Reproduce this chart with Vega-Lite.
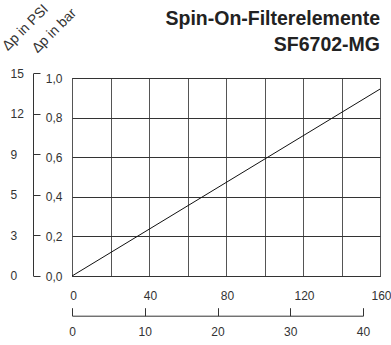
{
  "$schema": "https://vega.github.io/schema/vega-lite/v6.json",
  "width": 308,
  "height": 198,
  "autosize": "none",
  "padding": {"left": 72, "top": 78, "right": 11, "bottom": 69},
  "background": "white",
  "title": {
    "text": ["Spin-On-Filterelemente", "SF6702-MG"],
    "anchor": "end",
    "frame": "group",
    "font": "Liberation Sans",
    "fontSize": 19.5,
    "fontWeight": "bold",
    "color": "#222",
    "lineHeight": 26,
    "offset": 0,
    "dy": 54
  },
  "layer": [
    {
      "data": {"values": [{"flow": 0, "dp": 0}, {"flow": 160, "dp": 0.944}]},
      "mark": {"type": "line", "color": "#111", "strokeWidth": 1},
      "encoding": {
        "x": {
          "field": "flow", "type": "quantitative",
          "scale": {"domain": [0, 160], "nice": false},
          "axis": {
            "values": [0, 20, 40, 60, 80, 100, 120, 140, 160],
            "labelExpr": "datum.value % 40 == 0 ? datum.label : ''",
            "grid": true, "gridColor": "#555", "domain": false, "ticks": false,
            "labelPadding": 14, "labelFlush": false, "labelOffset": 1, "title": null
          }
        },
        "y": {
          "field": "dp", "type": "quantitative",
          "scale": {"domain": [0, 1], "nice": false},
          "axis": {
            "values": [0, 0.2, 0.4, 0.6, 0.8, 1],
            "labelExpr": "replace(format(datum.value, '.1f'), '.', ',')",
            "grid": true, "gridColor": "#333", "domain": false, "ticks": false,
            "labelPadding": 10, "labelFlush": false,
            "title": "Δp in bar", "titleAngle": 315, "titleX": -35, "titleY": -25,
            "titleAlign": "left", "titleBaseline": "alphabetic"
          }
        }
      }
    },
    {
      "data": {"values": [{"gpm": 0, "psi": 0}, {"gpm": 40, "psi": 14.5}]},
      "mark": {"type": "point", "opacity": 0},
      "encoding": {
        "x": {
          "field": "gpm", "type": "quantitative",
          "scale": {"domain": [0, 40], "range": [0, 291], "nice": false},
          "axis": {
            "orient": "top", "offset": -237.7,
            "values": [0, 10, 20, 30, 40],
            "domain": true, "domainColor": "#333", "ticks": true, "tickColor": "#333", "tickSize": 8,
            "labelPadding": -19, "labelBaseline": "top", "labelFlush": false,
            "grid": false, "title": null
          }
        },
        "y": {
          "field": "psi", "type": "quantitative",
          "scale": {"domain": [0, 14.5], "range": [197.7, -4.7], "nice": false},
          "axis": {
            "orient": "right", "offset": -347,
            "values": [0, 2.9, 5.8, 8.7, 11.6, 14.5],
            "labelExpr": "[0, 3, 5, 9, 12, 15][round(datum.value / 2.9)]",
            "domain": true, "domainColor": "#333", "ticks": true, "tickColor": "#333", "tickSize": 7,
            "labelPadding": -30, "labelAlign": "left", "labelFlush": false,
            "grid": false,
            "title": "Δp in PSI", "titleAngle": 315, "titleX": -25.7, "titleY": -27.3,
            "titleAlign": "left", "titleBaseline": "alphabetic"
          }
        }
      }
    }
  ],
  "resolve": {
    "scale": {"x": "independent", "y": "independent"},
    "axis": {"x": "independent", "y": "independent"}
  },
  "config": {
    "view": {"stroke": "#111", "strokeWidth": 1},
    "axis": {
      "labelFont": "Liberation Sans", "labelFontSize": 12, "labelColor": "#333",
      "titleFont": "Liberation Sans", "titleFontSize": 14, "titleFontWeight": "normal", "titleColor": "#333",
      "gridOpacity": 1, "gridWidth": 1
    }
  }
}
